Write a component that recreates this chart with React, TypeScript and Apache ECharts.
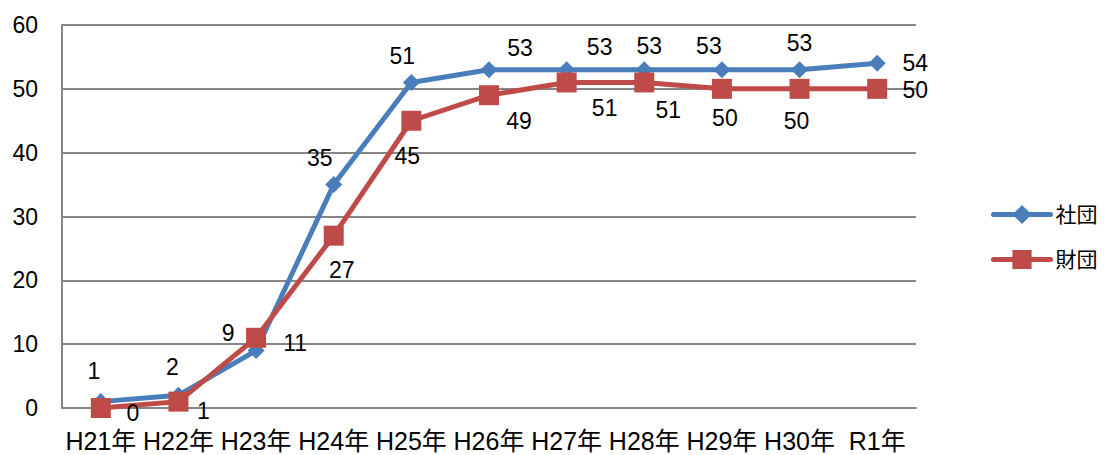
import React, { useEffect, useRef } from "react";
import * as echarts from "echarts";

const categories = ["H21年", "H22年", "H23年", "H24年", "H25年", "H26年", "H27年", "H28年", "H29年", "H30年", "R1年"];
const shadanValues = [1, 2, 9, 35, 51, 53, 53, 53, 53, 53, 54];
const zaidanValues = [0, 1, 11, 27, 45, 49, 51, 51, 50, 50, 50];
const yTicks = { min: 0, max: 60, interval: 10 };

// label offsets (pixels) relative to each marker
const shadanLabelOffsets: [number, number][] = [
  [-7, -31], [-6, -28], [-28, -18], [-14, -27], [-9, -26], [31, -22], [33, -23], [5, -24], [-13, -24], [0, -27], [38, 0],
];
const zaidanLabelOffsets: [number, number][] = [
  [32, 5], [25, 9], [39, 5], [8, 34], [-4, 35], [30, 26], [38, 26], [24, 28], [3, 29], [-3, 32], [38, 1],
];

const FONT = "'Liberation Sans', 'Noto Sans CJK JP', sans-serif";
const BLUE = "#4A7EBB";
const RED = "#BE4B48";

export default function App() {
  const ref = useRef<HTMLDivElement>(null);
  useEffect(() => {
    if (!ref.current) return;
    const chart = echarts.init(ref.current, undefined, { renderer: "svg" });
    const mk = (vals: number[], offs: [number, number][]) =>
      vals.map((v, i) => ({
        value: v,
        label: { offset: offs[i] },
      }));
    chart.setOption({
      animation: false,
      backgroundColor: "#ffffff",
      textStyle: { fontFamily: FONT },
      grid: { left: 62, right: 188, top: 25, bottom: 47, containLabel: false },
      legend: {
        orient: "vertical",
        left: 986,
        top: 199,
        itemWidth: 57,
        itemHeight: 24,
        itemGap: 24,
        lineStyle: { width: 5, cap: "round" },
        textStyle: { fontSize: 21, color: "#000", fontFamily: FONT },
        data: ["社団", "財団"],
      },
      xAxis: {
        type: "category",
        data: categories,
        boundaryGap: true,
        axisLine: { lineStyle: { color: "#868686", width: 2 } },
        axisTick: { show: false },
        axisLabel: { fontSize: 25, color: "#000", margin: 20, interval: 0, hideOverlap: false, fontFamily: FONT },
      },
      yAxis: {
        type: "value",
        min: yTicks.min,
        max: yTicks.max,
        interval: yTicks.interval,
        axisLine: { show: true, lineStyle: { color: "#868686", width: 2 } },
        axisTick: { show: false },
        splitLine: { lineStyle: { color: "#868686", width: 2 } },
        axisLabel: { fontSize: 23, color: "#000", margin: 24, fontFamily: FONT },
      },
      series: [
        {
          name: "社団",
          type: "line",
          data: mk(shadanValues, shadanLabelOffsets),
          symbol: "diamond",
          symbolSize: 17,
          lineStyle: { color: BLUE, width: 5 },
          itemStyle: { color: BLUE },
          label: { show: true, position: "inside", fontSize: 23, color: "#000", fontFamily: FONT },
          z: 2,
        },
        {
          name: "財団",
          type: "line",
          data: mk(zaidanValues, zaidanLabelOffsets),
          symbol: "rect",
          symbolSize: 20,
          lineStyle: { color: RED, width: 5 },
          itemStyle: { color: RED },
          label: { show: true, position: "inside", fontSize: 23, color: "#000", fontFamily: FONT },
          z: 3,
        },
      ],
    });
    return () => chart.dispose();
  }, []);
  return <div ref={ref} style={{ position: "fixed", left: 0, top: 0, width: 1104, height: 455 }} />;
}
